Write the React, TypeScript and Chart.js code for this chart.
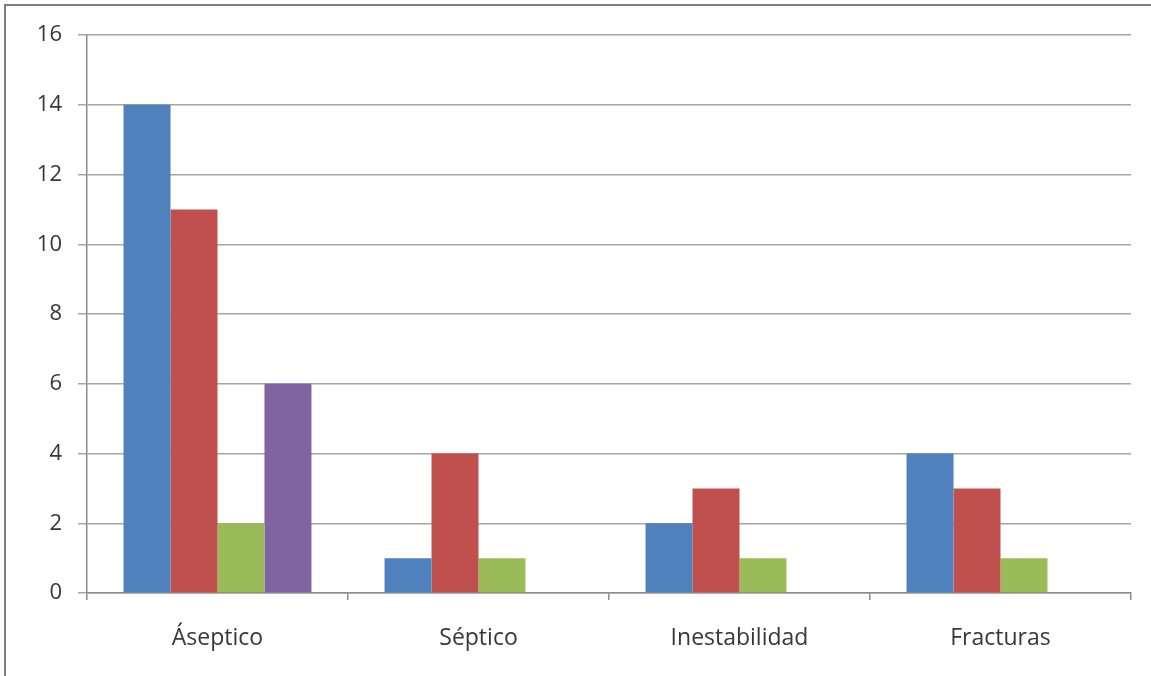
import React, { useEffect, useRef } from "react";
import { Chart, registerables } from "chart.js";

Chart.register(...registerables);

const categories = ["Áseptico", "Séptico", "Inestabilidad", "Fracturas"];
const serie1 = [14, 1, 2, 4];
const serie2 = [11, 4, 3, 3];
const serie3 = [2, 1, 1, 1];
const serie4 = [6, 0, 0, 0];
const yMin = 0;
const yMax = 16;
const yStep = 2;

const colors = ["#4F81BD", "#C0504D", "#9BBB59", "#8064A2"];

const frame = {
  id: "frame",
  afterDraw(chart: any) {
    const ctx = chart.ctx;
    ctx.save();
    ctx.strokeStyle = "#7f7f7f";
    ctx.lineWidth = 2;
    ctx.beginPath();
    ctx.moveTo(5, chart.height);
    ctx.lineTo(5, 5);
    ctx.lineTo(chart.width, 5);
    ctx.stroke();
    ctx.restore();
  },
};

export default function App() {
  const ref = useRef<HTMLCanvasElement>(null);
  useEffect(() => {
    if (!ref.current) return;
    const seriesList = [serie1, serie2, serie3, serie4];
    const chart = new Chart(ref.current, {
      type: "bar",
      data: {
        labels: categories,
        datasets: seriesList.map((d, i) => ({
          label: "Serie " + (i + 1),
          data: d,
          backgroundColor: colors[i],
          borderWidth: 0,
          categoryPercentage: 0.72,
          barPercentage: 1,
        })),
      },
      options: {
        responsive: false,
        animation: false,
        layout: { padding: { top: 35, right: 20, left: 0, bottom: 0 } },
        plugins: { legend: { display: false }, tooltip: { enabled: false } },
        scales: {
          x: {
            grid: {
              offset: true,
              drawOnChartArea: false,
              drawTicks: true,
              tickLength: 7,
              color: "#8c8c8c",
              lineWidth: 1.5,
            },
            border: { color: "#8c8c8c", width: 1.5 },
            ticks: {
              color: "#383838",
              font: { family: "Open Sans", size: 23 },
              padding: 25,
              maxRotation: 0,
            },
            afterFit: (s: any) => {
              s.height = 83;
            },
          },
          y: {
            min: yMin,
            max: yMax,
            ticks: {
              stepSize: yStep,
              color: "#383838",
              font: { family: "Open Sans", size: 22 },
              padding: 16,
            },
            grid: {
              color: "#a6a6a6",
              lineWidth: 1.5,
              tickLength: 9,
              drawTicks: true,
            },
            border: { color: "#8c8c8c", width: 1.5 },
            afterFit: (s: any) => {
              s.width = 87;
            },
          },
        },
      },
      plugins: [frame],
    });
    return () => chart.destroy();
  }, []);
  return (
    <div style={{ position: "fixed", left: 0, top: 0, width: 1151, height: 676, background: "#fff" }}>
      <canvas ref={ref} width={1151} height={676} />
    </div>
  );
}
